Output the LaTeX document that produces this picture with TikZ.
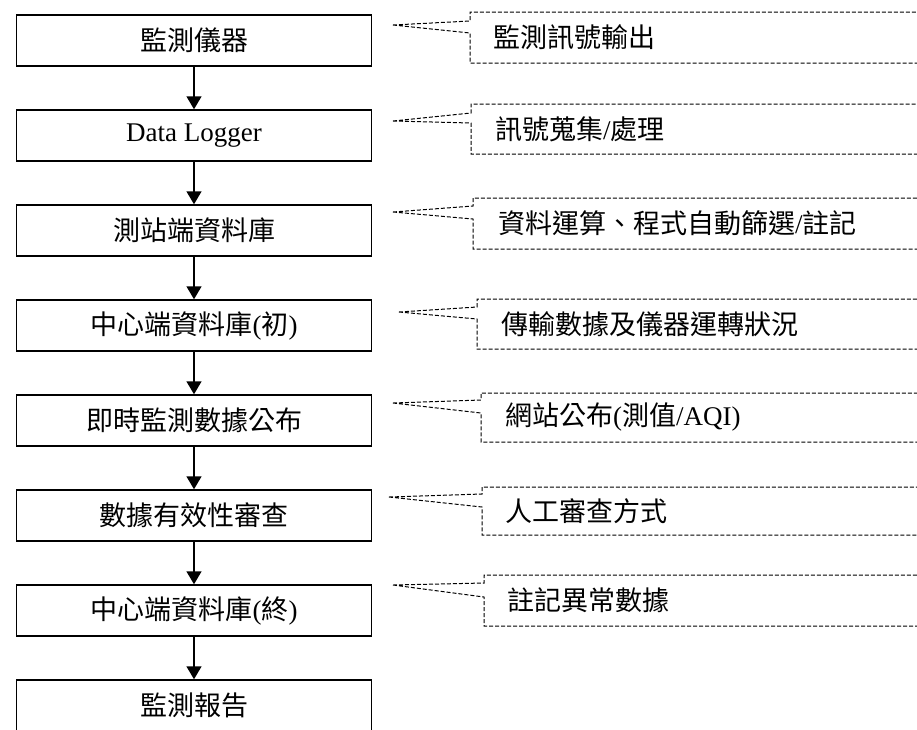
\documentclass[tikz,border=0pt]{standalone}
\usepackage{fontspec}
\setmainfont{Liberation Serif}
\newfontfamily\cjk{Noto Sans CJK TC}
\usetikzlibrary{arrows.meta, positioning}

\begin{document}
\begin{tikzpicture}[x=1pt, y=1pt, node distance=42.5pt,
stage/.style={draw, line width=1.5pt, minimum width=355pt, minimum height=51pt,
  inner sep=0pt, font=\fontsize{27}{30}\selectfont},
note/.style={anchor=west, inner sep=0pt, font=\fontsize{27}{30}\selectfont},
bubble/.style={line width=1pt, dash pattern=on 4pt off 2pt},
flow/.style={-{Triangle[width=15pt, length=13pt]}, line width=1.5pt}]
\useasboundingbox (0,0) rectangle (917,-729);
\clip (0,0) rectangle (917,-729);

% left column
\node[stage] (s1) at (194,-40.5) {\cjk 監測儀器};
\node[stage, below=of s1] (s2) {Data Logger};
\node[stage, below=of s2] (s3) {\cjk 測站端資料庫};
\node[stage, below=of s3] (s4) {{\cjk 中心端資料庫}({\cjk 初})};
\node[stage, below=of s4] (s5) {\cjk 即時監測數據公布};
\node[stage, below=of s5] (s6) {\cjk 數據有效性審查};
\node[stage, below=of s6] (s7) {{\cjk 中心端資料庫}({\cjk 終})};
\node[stage, below=of s7] (s8) {\cjk 監測報告};

\foreach \a/\b in {s1/s2, s2/s3, s3/s4, s4/s5, s5/s6, s6/s7, s7/s8}
  \draw[flow] (\a) -- (\b);

% callouts
\coordinate (t1) at (393,-25);
\draw[bubble] (t1) -- (470,-21) |- (930,-12) (t1) -- (470,-33) |- (930,-63);
\node[note] (n1) at (493,-37.5) {\cjk 監測訊號輸出};

\coordinate (t2) at (393,-121);
\draw[bubble] (t2) -- (471,-113) |- (930,-104) (t2) -- (471,-123) |- (930,-154);
\node[note] (n2) at (495,-129) {{\cjk 訊號蒐集}/{\cjk 處理}};

\coordinate (t3) at (393,-212);
\draw[bubble] (t3) -- (473,-206) |- (930,-198) (t3) -- (473,-219) |- (930,-249);
\node[note] (n3) at (498,-223.5) {{\cjk 資料運算、程式自動篩選}/{\cjk 註記}};

\coordinate (t4) at (399,-312);
\draw[bubble] (t4) -- (477,-307) |- (930,-299) (t4) -- (477,-319) |- (930,-349);
\node[note] (n4) at (501,-324) {\cjk 傳輸數據及儀器運轉狀況};

\coordinate (t5) at (393,-403);
\draw[bubble] (t5) -- (481,-400) |- (930,-393) (t5) -- (481,-413) |- (930,-442);
\node[note] (n5) at (505,-417.5) {{\cjk 網站公布}({\cjk 測值}/AQI)};

\coordinate (t6) at (389,-497);
\draw[bubble] (t6) -- (482,-494) |- (930,-487) (t6) -- (482,-507) |- (930,-535);
\node[note] (n6) at (505,-511) {\cjk 人工審查方式};

\coordinate (t7) at (393,-585);
\draw[bubble] (t7) -- (484,-583) |- (930,-575) (t7) -- (484,-597) |- (930,-626);
\node[note] (n7) at (507,-600.5) {\cjk 註記異常數據};

\end{tikzpicture}
\end{document}
